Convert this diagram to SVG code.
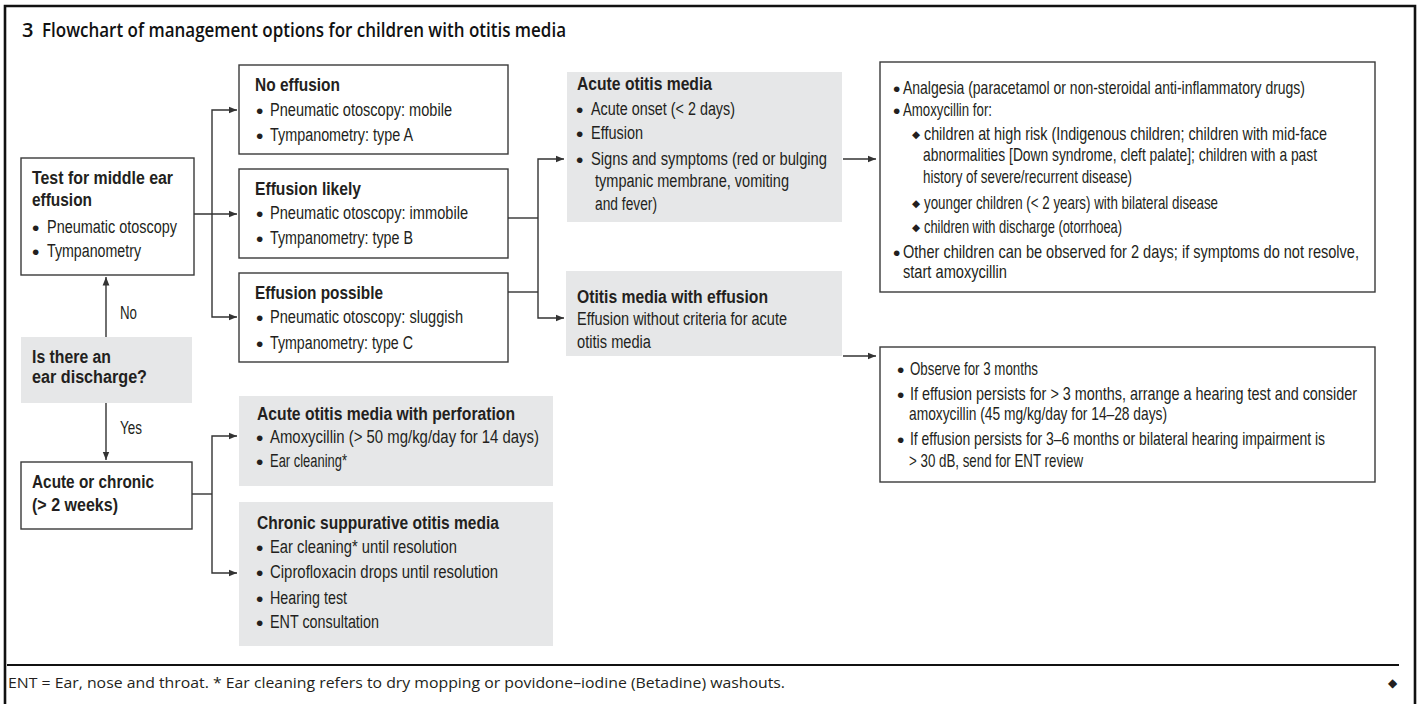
<svg xmlns="http://www.w3.org/2000/svg" width="1419" height="704" viewBox="0 0 1419 704">
<style>
.frame{fill:none;stroke:#111;stroke-width:2.6}
.box{fill:#fff;stroke:#3a3a3a;stroke-width:1.4}
.gbox{fill:#e6e7e8;stroke:none}
.t{font-family:"Liberation Sans",Arial,sans-serif;font-size:18px;fill:#231f20}
.h{font-weight:bold}
.b{font-family:"Liberation Sans",Arial,sans-serif;font-size:21px;fill:#231f20}
.dm{font-family:"DejaVu Sans",sans-serif;font-size:10.5px;fill:#231f20}
.conn{fill:none;stroke:#333;stroke-width:1.4}
.title{font-family:"Open Sans",sans-serif;font-weight:600;font-size:20px;fill:#111}
.foot{font-family:"Open Sans",sans-serif;font-size:14px;fill:#231f20}
</style>
<defs>
<marker id="ah" markerUnits="userSpaceOnUse" markerWidth="9" markerHeight="8" refX="8.5" refY="4" orient="auto">
<path d="M0,0.6 L8.5,4 L0,7.4 z" fill="#333"/>
</marker>
</defs>
<rect width="1419" height="704" fill="#fff"/>
<path class="frame" d="M5,704 V6 H1415 V704"/>
<text class="title" y="37"><tspan x="22">3</tspan><tspan x="42" textLength="524" lengthAdjust="spacingAndGlyphs">Flowchart of management options for children with otitis media</tspan></text>

<g id="connectors">
<path class="conn" d="M194,214 H237" marker-end="url(#ah)"/>
<path class="conn" d="M212,214 V110 H237" marker-end="url(#ah)"/>
<path class="conn" d="M212,214 V317 H237" marker-end="url(#ah)"/>
<path class="conn" d="M508,218 H538"/>
<path class="conn" d="M508,292 H538"/>
<path class="conn" d="M538,255 V159 H564" marker-end="url(#ah)"/>
<path class="conn" d="M538,255 V318 H564" marker-end="url(#ah)"/>
<path class="conn" d="M843,159 H876" marker-end="url(#ah)"/>
<path class="conn" d="M843,356 H876" marker-end="url(#ah)"/>
<path class="conn" d="M106,337 V277" marker-end="url(#ah)"/>
<path class="conn" d="M106,403 V460" marker-end="url(#ah)"/>
<path class="conn" d="M192,494 H212"/>
<path class="conn" d="M212,494 V436 H237" marker-end="url(#ah)"/>
<path class="conn" d="M212,494 V573 H237" marker-end="url(#ah)"/>
<text class="t" x="120" y="319" textLength="17" lengthAdjust="spacingAndGlyphs">No</text>
<text class="t" x="120" y="434" textLength="22" lengthAdjust="spacingAndGlyphs">Yes</text>
</g>

<g id="test">
<rect class="box" x="21" y="158" width="173" height="117"/>
<text class="t h" x="32" y="184" textLength="141" lengthAdjust="spacingAndGlyphs">Test for middle ear</text>
<text class="t h" x="32" y="206" textLength="60" lengthAdjust="spacingAndGlyphs">effusion</text>
<text class="b" x="32" y="235">•</text><text class="t" x="47" y="233" textLength="130" lengthAdjust="spacingAndGlyphs">Pneumatic otoscopy</text>
<text class="b" x="32" y="259">•</text><text class="t" x="47" y="257" textLength="94" lengthAdjust="spacingAndGlyphs">Tympanometry</text>
</g>

<g id="discharge">
<rect class="gbox" x="21" y="337" width="171" height="66"/>
<text class="t h" x="32" y="363" textLength="79" lengthAdjust="spacingAndGlyphs">Is there an</text>
<text class="t h" x="32" y="383" textLength="115" lengthAdjust="spacingAndGlyphs">ear discharge?</text>
</g>

<g id="acutechronic">
<rect class="box" x="21" y="462" width="171" height="67"/>
<text class="t h" x="32" y="488" textLength="122" lengthAdjust="spacingAndGlyphs">Acute or chronic</text>
<text class="t h" x="32" y="511" textLength="86" lengthAdjust="spacingAndGlyphs">(&gt; 2 weeks)</text>
</g>

<g id="noeffusion">
<rect class="box" x="239" y="65" width="269" height="89"/>
<text class="t h" x="255" y="91" textLength="85" lengthAdjust="spacingAndGlyphs">No effusion</text>
<text class="b" x="256" y="118">•</text><text class="t" x="270" y="116" textLength="182" lengthAdjust="spacingAndGlyphs">Pneumatic otoscopy: mobile</text>
<text class="b" x="256" y="143">•</text><text class="t" x="270" y="141" textLength="143" lengthAdjust="spacingAndGlyphs">Tympanometry: type A</text>
</g>

<g id="likely">
<rect class="box" x="239" y="169" width="269" height="89"/>
<text class="t h" x="255" y="195" textLength="106" lengthAdjust="spacingAndGlyphs">Effusion likely</text>
<text class="b" x="256" y="221">•</text><text class="t" x="270" y="219" textLength="198" lengthAdjust="spacingAndGlyphs">Pneumatic otoscopy: immobile</text>
<text class="b" x="256" y="246">•</text><text class="t" x="270" y="244" textLength="143" lengthAdjust="spacingAndGlyphs">Tympanometry: type B</text>
</g>

<g id="possible">
<rect class="box" x="239" y="273" width="269" height="89"/>
<text class="t h" x="255" y="299" textLength="128" lengthAdjust="spacingAndGlyphs">Effusion possible</text>
<text class="b" x="256" y="325">•</text><text class="t" x="270" y="323" textLength="193" lengthAdjust="spacingAndGlyphs">Pneumatic otoscopy: sluggish</text>
<text class="b" x="256" y="351">•</text><text class="t" x="270" y="349" textLength="143" lengthAdjust="spacingAndGlyphs">Tympanometry: type C</text>
</g>

<g id="aom">
<rect class="gbox" x="567" y="72" width="275" height="150"/>
<text class="t h" x="577" y="90" textLength="135" lengthAdjust="spacingAndGlyphs">Acute otitis media</text>
<text class="b" x="576" y="117">•</text><text class="t" x="591" y="115" textLength="144" lengthAdjust="spacingAndGlyphs">Acute onset (&lt; 2 days)</text>
<text class="b" x="576" y="141">•</text><text class="t" x="591" y="139" textLength="52" lengthAdjust="spacingAndGlyphs">Effusion</text>
<text class="b" x="576" y="167">•</text><text class="t" x="591" y="165" textLength="236" lengthAdjust="spacingAndGlyphs">Signs and symptoms (red or bulging</text>
<text class="t" x="595" y="187" textLength="194" lengthAdjust="spacingAndGlyphs">tympanic membrane, vomiting</text>
<text class="t" x="595" y="210" textLength="62" lengthAdjust="spacingAndGlyphs">and fever)</text>
</g>

<g id="ome">
<rect class="gbox" x="566" y="271" width="276" height="85"/>
<text class="t h" x="577" y="303" textLength="191" lengthAdjust="spacingAndGlyphs">Otitis media with effusion</text>
<text class="t" x="577" y="325" textLength="210" lengthAdjust="spacingAndGlyphs">Effusion without criteria for acute</text>
<text class="t" x="577" y="348" textLength="74" lengthAdjust="spacingAndGlyphs">otitis media</text>
</g>

<g id="aomperf">
<rect class="gbox" x="239" y="396" width="314" height="90"/>
<text class="t h" x="257" y="420" textLength="258" lengthAdjust="spacingAndGlyphs">Acute otitis media with perforation</text>
<text class="b" x="256" y="445">•</text><text class="t" x="270" y="443" textLength="269" lengthAdjust="spacingAndGlyphs">Amoxycillin (&gt; 50 mg/kg/day for 14 days)</text>
<text class="b" x="256" y="469">•</text><text class="t" x="270" y="467" textLength="77" lengthAdjust="spacingAndGlyphs">Ear cleaning*</text>
</g>

<g id="csom">
<rect class="gbox" x="239" y="502" width="314" height="144"/>
<text class="t h" x="257" y="529" textLength="242" lengthAdjust="spacingAndGlyphs">Chronic suppurative otitis media</text>
<text class="b" x="256" y="555">•</text><text class="t" x="270" y="553" textLength="187" lengthAdjust="spacingAndGlyphs">Ear cleaning* until resolution</text>
<text class="b" x="256" y="580">•</text><text class="t" x="270" y="578" textLength="228" lengthAdjust="spacingAndGlyphs">Ciprofloxacin drops until resolution</text>
<text class="b" x="256" y="606">•</text><text class="t" x="270" y="604" textLength="77" lengthAdjust="spacingAndGlyphs">Hearing test</text>
<text class="b" x="256" y="630">•</text><text class="t" x="270" y="628" textLength="109" lengthAdjust="spacingAndGlyphs">ENT consultation</text>
</g>

<g id="aomtreat">
<rect class="box" x="880" y="62" width="495" height="230"/>
<text class="b" x="893" y="96">•</text>
<text class="b" x="893" y="118">•</text>
<text class="dm" x="912" y="138">◆</text>
<text class="dm" x="912" y="207">◆</text>
<text class="dm" x="912" y="231">◆</text>
<text class="b" x="893" y="260">•</text>
<g transform="scale(0.7,1)">
<text class="t" x="1290" y="94" textLength="574.3" lengthAdjust="spacingAndGlyphs">Analgesia (paracetamol or non-steroidal anti-inflammatory drugs)</text>
<text class="t" x="1290" y="116" textLength="127.1" lengthAdjust="spacingAndGlyphs">Amoxycillin for:</text>
<text class="t" x="1320" y="140" textLength="575.7" lengthAdjust="spacingAndGlyphs">children at high risk (Indigenous children; children with mid-face</text>
<text class="t" x="1318.6" y="161" textLength="562.9" lengthAdjust="spacingAndGlyphs">abnormalities [Down syndrome, cleft palate]; children with a past</text>
<text class="t" x="1318.6" y="183" textLength="298.6" lengthAdjust="spacingAndGlyphs">history of severe/recurrent disease)</text>
<text class="t" x="1320" y="209" textLength="420" lengthAdjust="spacingAndGlyphs">younger children (&lt; 2 years) with bilateral disease</text>
<text class="t" x="1320" y="233" textLength="282.9" lengthAdjust="spacingAndGlyphs">children with discharge (otorrhoea)</text>
<text class="t" x="1290" y="258" textLength="651.4" lengthAdjust="spacingAndGlyphs">Other children can be observed for 2 days; if symptoms do not resolve,</text>
<text class="t" x="1290" y="278" textLength="148.6" lengthAdjust="spacingAndGlyphs">start amoxycillin</text>
</g>
</g>

<g id="ometreat">
<rect class="box" x="880" y="347" width="495" height="135"/>
<text class="b" x="897" y="377">•</text>
<text class="b" x="897" y="402">•</text>
<text class="b" x="897" y="447">•</text>
<g transform="scale(0.7,1)">
<text class="t" x="1300" y="375" textLength="182.9" lengthAdjust="spacingAndGlyphs">Observe for 3 months</text>
<text class="t" x="1300" y="400" textLength="638.6" lengthAdjust="spacingAndGlyphs">If effusion persists for &gt; 3 months, arrange a hearing test and consider</text>
<text class="t" x="1298.6" y="420" textLength="368.6" lengthAdjust="spacingAndGlyphs">amoxycillin (45 mg/kg/day for 14–28 days)</text>
<text class="t" x="1300" y="445" textLength="592.9" lengthAdjust="spacingAndGlyphs">If effusion persists for 3–6 months or bilateral hearing impairment is</text>
<text class="t" x="1298.6" y="467" textLength="248.6" lengthAdjust="spacingAndGlyphs">&gt; 30 dB, send for ENT review</text>
</g>
</g>

<line x1="7" y1="665" x2="1399" y2="665" stroke="#111" stroke-width="2.2"/>
<text class="foot" x="8" y="688" textLength="777" lengthAdjust="spacingAndGlyphs">ENT = Ear, nose and throat. * Ear cleaning refers to dry mopping or povidone–iodine (Betadine) washouts.</text>
<text class="dm" x="1388" y="687" style="font-size:12px">◆</text>
</svg>
